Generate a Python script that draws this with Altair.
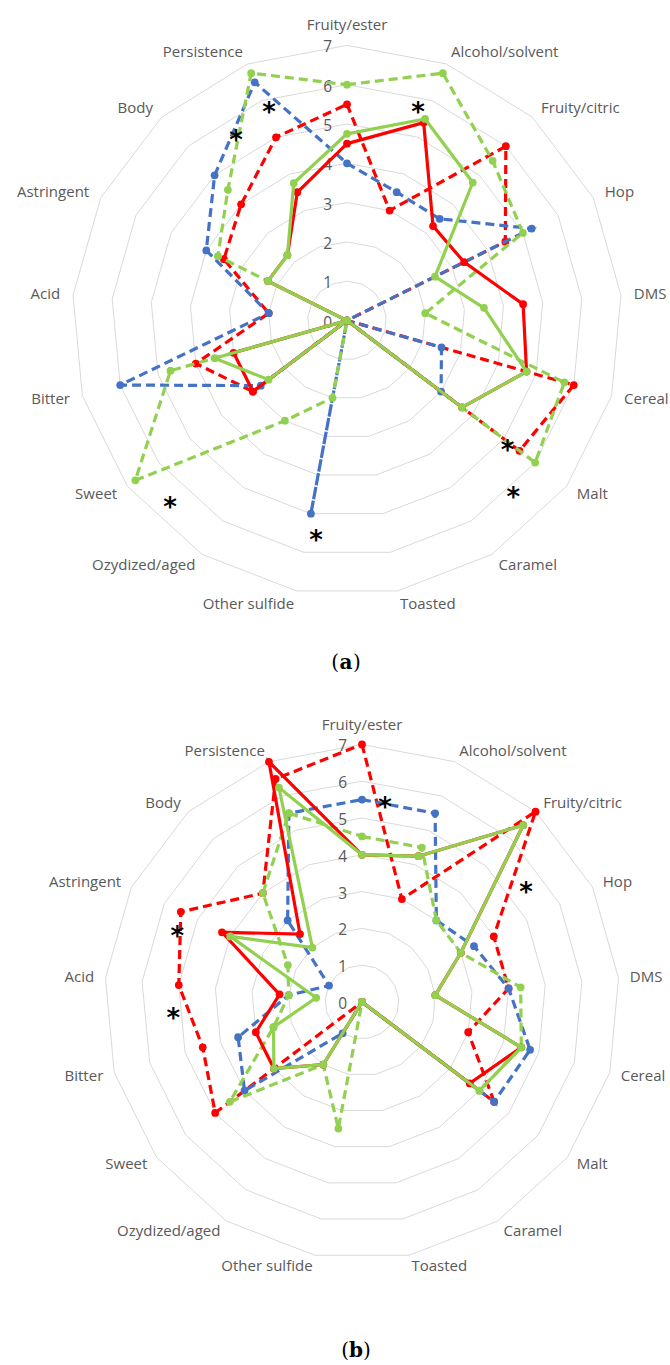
import altair as alt
import pandas as pd

# Sensory attributes, clockwise from the top
AXES = ["Fruity/ester", "Alcohol/solvent", "Fruity/citric", "Hop", "DMS", "Cereal",
        "Malt", "Caramel", "Toasted", "Other sulfide", "Ozydized/aged", "Sweet",
        "Bitter", "Acid", "Astringent", "Body", "Persistence"]

# Panel (a) scores
A_BLUE_DASHED = [4.0, 3.5, 3.5, 5.25, 0, 2.5, 3.0, 0, 0, 5.0, 0, 2.75, 6.0, 2.0, 4.0, 5.0, 6.5]
A_RED_DASHED = [5.5, 3.0, 6.0, 4.5, 0, 6.0, 5.5, 0, 0, 0, 0, 3.0, 4.0, 2.0, 3.5, 4.0, 5.0]
A_GREEN_DASHED = [6.0, 6.75, 5.5, 5.0, 2.0, 5.75, 6.0, 0, 0, 2.0, 3.0, 6.75, 4.67, 0, 3.67, 4.5, 6.75]
A_RED_SOLID = [4.5, 5.4, 3.25, 3.33, 4.5, 4.75, 3.67, 0, 0, 0, 0, 3.0, 3.0, 0, 2.25, 2.25, 3.5]
A_GREEN_SOLID = [4.75, 5.5, 4.75, 2.5, 3.5, 4.75, 3.67, 0, 0, 0, 0, 2.5, 3.5, 0, 2.25, 2.25, 3.75]

# Panel (b) scores
B_BLUE_DASHED = [5.5, 5.5, 3.0, 3.4, 4.0, 4.75, 4.5, 0, 0, 0, 1.0, 4.0, 3.5, 2.0, 1.0, 3.0, 5.5]
B_RED_DASHED = [7.0, 3.0, 7.0, 4.0, 4.0, 3.0, 4.5, 0, 0, 0, 0, 5.0, 4.5, 5.0, 5.5, 4.0, 6.5]
B_GREEN_DASHED = [4.5, 4.5, 3.0, 3.0, 4.33, 4.5, 4.0, 0, 0, 3.5, 2.0, 4.5, 2.5, 2.0, 2.25, 4.0, 5.5]
B_RED_SOLID = [4.0, 4.25, 6.5, 3.0, 2.0, 4.5, 3.67, 0, 0, 0, 2.0, 3.0, 3.0, 2.25, 4.25, 2.5, 7.0]
B_GREEN_SOLID = [4.0, 4.25, 6.5, 3.0, 2.0, 4.5, 4.0, 0, 0, 0, 2.0, 3.0, 2.5, 1.25, 4.0, 2.0, 6.25]

SCALE_TICKS = [0, 1, 2, 3, 4, 5, 6, 7]

# Significance marks: panel, direction (degrees clockwise from top), distance (score units)
STAR_PANEL = ["a", "a", "a", "a", "a", "a", "a", "b", "b", "b", "b"]
STAR_ANGLE = [339.9, 329.1, 18.4, 127.8, 135.8, 224.3, 188.2, 6.55, 54.9, 291.1, 266.6]
STAR_RADIUS = [5.78, 5.50, 5.72, 5.17, 6.07, 6.45, 5.51, 5.48, 5.45, 5.38, 5.14]

CAPTIONS = ["a", "b"]

# ---- layout ----
W, H = 670, 1365
CENTER_X = {"a": 347, "b": 362}
CENTER_Y = {"a": 320.5, "b": 1002}
UNIT = {"a": 39.3, "b": 36.8}
LABEL_R = {"a": 288, "b": 269}
CAPTION_XY = {"a": (346, 663), "b": (356, 1351)}

BLUE, RED, GREEN = "#4472C4", "#FF0000", "#92D050"
GRID = "#D9D9D9"
TEXT = "#595959"
FONT = "Open Sans"
DASH = [9, 5]

XS = alt.Scale(domain=[0, W], nice=False, zero=False)
YS = alt.Scale(domain=[0, H], reverse=True, nice=False, zero=False)


def pick(d):
    return f"(datum.panel == 'a' ? {d['a']} : {d['b']})"


ANG = "datum.idx * 2 * PI / 17"


def polar(chart, radius_expr, angle_expr=ANG):
    return chart.transform_calculate(
        px=f"{pick(CENTER_X)} + ({radius_expr}) * sin({angle_expr})",
        py=f"{pick(CENTER_Y)} - ({radius_expr}) * cos({angle_expr})",
    ).encode(
        x=alt.X("px:Q", scale=XS, axis=None),
        y=alt.Y("py:Q", scale=YS, axis=None),
    )


VALUE_R = f"datum.value * {pick(UNIT)}"

# ---- grid rings ----
ring_rows = [
    {"panel": p, "ring": r, "idx": i, "value": r}
    for p in ("a", "b") for r in SCALE_TICKS[1:] for i in range(len(AXES))
]
rings = polar(
    alt.Chart(pd.DataFrame(ring_rows)).mark_line(
        interpolate="linear-closed", color=GRID, strokeWidth=1
    ),
    VALUE_R,
).encode(order=alt.Order("idx:Q"), detail=["panel:N", "ring:N"])

# ---- scale numbers ----
tick_rows = [{"panel": p, "value": v, "label": str(v)} for p in ("a", "b") for v in SCALE_TICKS]
ticks = alt.Chart(pd.DataFrame(tick_rows)).transform_calculate(
    px=f"{pick(CENTER_X)} - 15",
    py=f"{pick(CENTER_Y)} - {VALUE_R} + 2",
).mark_text(align="right", baseline="middle", font=FONT, fontSize=15.5, color=TEXT).encode(
    x=alt.X("px:Q", scale=XS, axis=None),
    y=alt.Y("py:Q", scale=YS, axis=None),
    text="label:N",
)

# ---- attribute labels ----
label_rows = []
for p in ("a", "b"):
    for i, name in enumerate(AXES):
        side = "center" if i == 0 else ("left" if i <= 8 else "right")
        label_rows.append({"panel": p, "idx": i, "name": name, "side": side})
label_df = pd.DataFrame(label_rows)
label_layers = []
for side, base in (("center", "bottom"), ("left", "middle"), ("right", "middle")):
    label_layers.append(
        polar(
            alt.Chart(label_df).transform_filter(f"datum.side == '{side}'").mark_text(
                align=side, baseline=base, font=FONT, fontSize=15, color=TEXT
            ),
            pick(LABEL_R),
        ).encode(text="name:N")
    )

# ---- series ----
series_spec = [
    ("red_dashed", A_RED_DASHED, B_RED_DASHED, RED, True),
    ("blue_dashed", A_BLUE_DASHED, B_BLUE_DASHED, BLUE, True),
    ("green_dashed", A_GREEN_DASHED, B_GREEN_DASHED, GREEN, True),
    ("red_solid", A_RED_SOLID, B_RED_SOLID, RED, False),
    ("green_solid", A_GREEN_SOLID, B_GREEN_SOLID, GREEN, False),
]
series_layers = []
for key, a_vals, b_vals, col, dashed in series_spec:
    rows = [{"panel": "a", "idx": i, "value": v} for i, v in enumerate(a_vals)]
    rows += [{"panel": "b", "idx": i, "value": v} for i, v in enumerate(b_vals)]
    base = alt.Chart(pd.DataFrame(rows))
    line_kw = dict(interpolate="linear-closed", color=col, strokeWidth=3.2)
    if dashed:
        line_kw["strokeDash"] = DASH
    line = polar(base.mark_line(**line_kw), VALUE_R).encode(
        order=alt.Order("idx:Q"), detail="panel:N"
    )
    dots = polar(base.mark_circle(size=60, color=col, opacity=1), VALUE_R)
    series_layers += [line, dots]

# ---- significance asterisks ----
star_df = pd.DataFrame({"panel": STAR_PANEL, "angle": STAR_ANGLE, "value": STAR_RADIUS})
stars = polar(
    alt.Chart(star_df).mark_text(
        text="*", font="DejaVu Sans", fontSize=26, fontWeight="bold", color="#000000",
        align="center", baseline="alphabetic", dy=14,
    ),
    VALUE_R,
    "datum.angle * PI / 180",
)

# ---- panel captions ----
cap_rows = []
for c in CAPTIONS:
    cx, cy = CAPTION_XY[c]
    cap_rows.append({"cx": cx, "cy": cy, "t": c})
cap_df = pd.DataFrame(cap_rows)
cap_enc = dict(
    x=alt.X("cx:Q", scale=XS, axis=None),
    y=alt.Y("cy:Q", scale=YS, axis=None),
)
cap_letter = alt.Chart(cap_df).mark_text(
    font="DejaVu Serif", fontSize=20, fontWeight="bold", color="#000000",
    align="center", baseline="middle",
).encode(text="t:N", **cap_enc)
cap_open = alt.Chart(cap_df).mark_text(
    text="(", font="DejaVu Serif", fontSize=20, color="#000000",
    align="right", baseline="middle", dx=-7,
).encode(**cap_enc)
cap_close = alt.Chart(cap_df).mark_text(
    text=")", font="DejaVu Serif", fontSize=20, color="#000000",
    align="left", baseline="middle", dx=7,
).encode(**cap_enc)

chart = alt.layer(
    rings, ticks, *label_layers, *series_layers, stars, cap_open, cap_letter, cap_close
).properties(
    width=W, height=H, padding=0, autosize=alt.AutoSizeParams(type="none"),
    background="#FFFFFF",
).configure_view(stroke=None)

chart.save("out.html", embed_options={"renderer": "svg", "actions": False})
